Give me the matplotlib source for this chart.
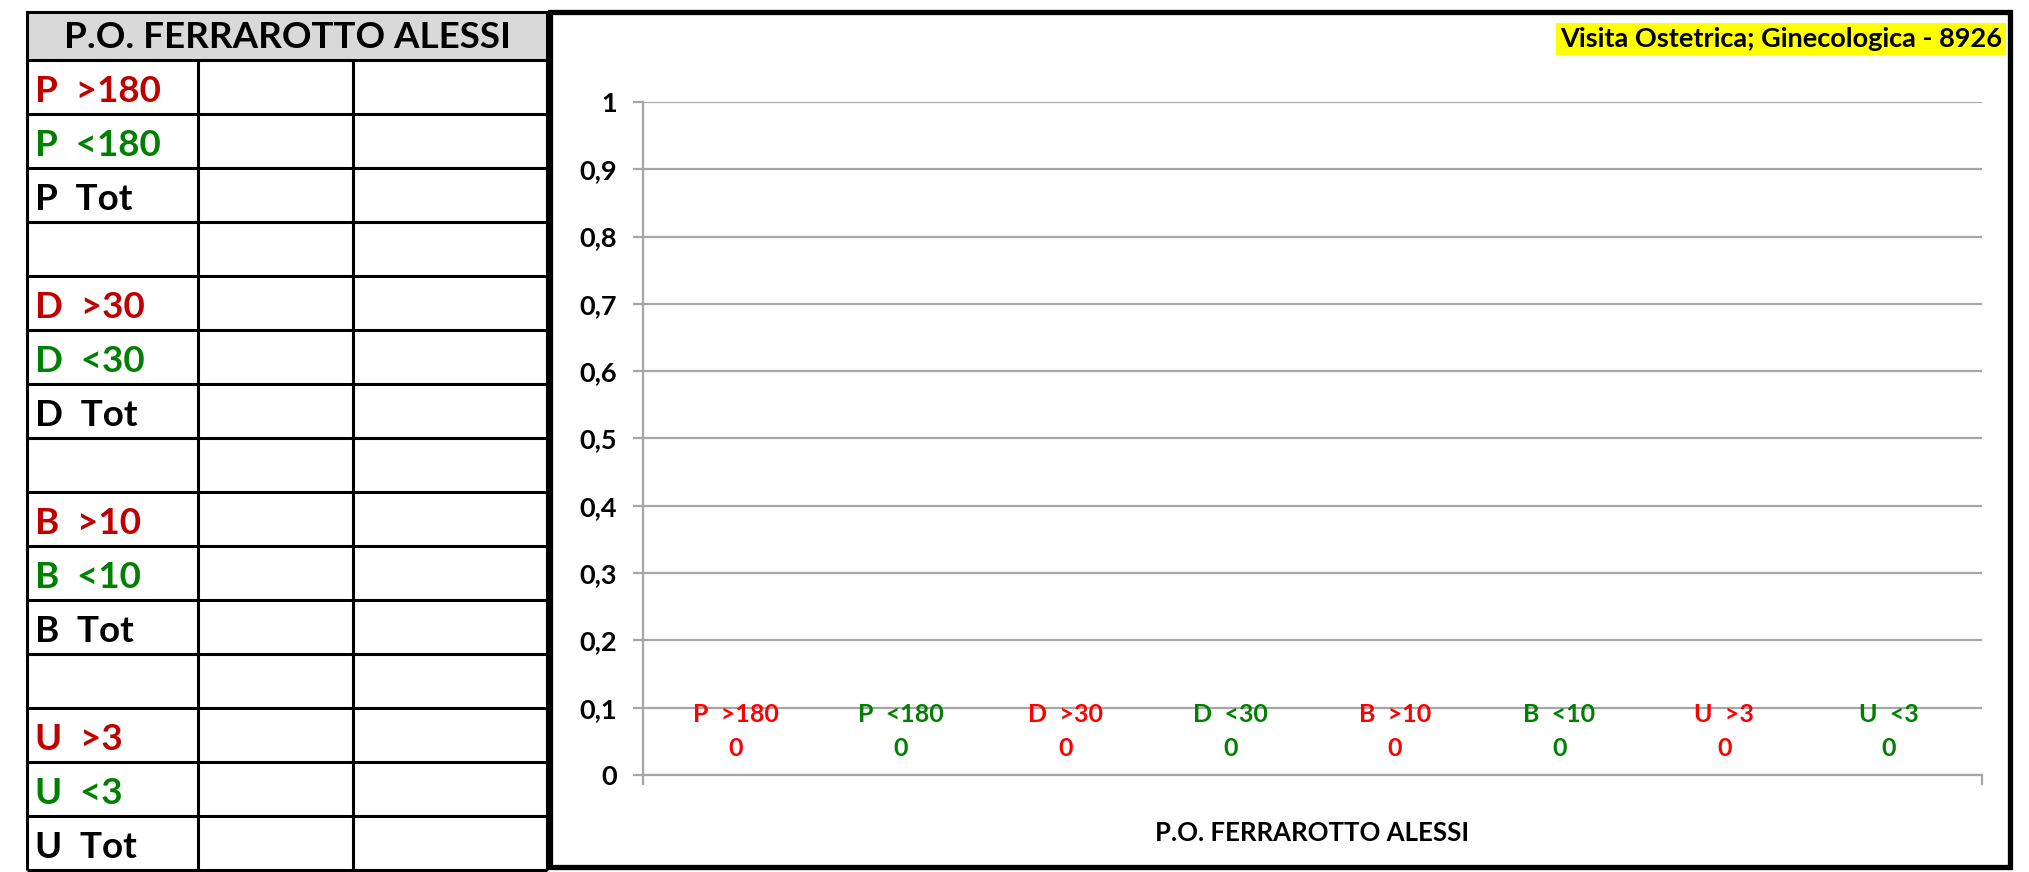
import matplotlib
matplotlib.use("Agg")
import matplotlib.pyplot as plt
from matplotlib.patches import Rectangle

plt.rcParams['font.family'] = ['Lato', 'DejaVu Sans']
plt.rcParams['font.weight'] = 'bold'

# data
title = "P.O. FERRAROTTO ALESSI"
badge = "Visita Ostetrica; Ginecologica - 8926"
row_labels = ["P  >180", "P  <180", "P  Tot", "",
              "D  >30", "D  <30", "D  Tot", "",
              "B  >10", "B  <10", "B  Tot", "",
              "U  >3", "U  <3", "U  Tot"]
row_kind = ["hi", "lo", "tot", "", "hi", "lo", "tot", "",
            "hi", "lo", "tot", "", "hi", "lo", "tot"]
series = ["P  >180", "P  <180", "D  >30", "D  <30", "B  >10", "B  <10", "U  >3", "U  <3"]
series_kind = ["hi", "lo", "hi", "lo", "hi", "lo", "hi", "lo"]
values = [0, 0, 0, 0, 0, 0, 0, 0]
yticks = [0, 0.1, 0.2, 0.3, 0.4, 0.5, 0.6, 0.7, 0.8, 0.9, 1]

table_col = {"hi": "#c00000", "lo": "#008000", "tot": "black", "": "black"}
chart_col = {"hi": "#ff0000", "lo": "#008000"}

W, H = 2029, 872
fig = plt.figure(figsize=(W / 100, H / 100), dpi=100)

# overlay in pixel coords for table and frame
bg = fig.add_axes([0, 0, 1, 1], zorder=0)
bg.set_xlim(0, W)
bg.set_ylim(H, 0)
bg.axis('off')

tl, tr, tt, hb, tb = 27, 547, 12, 60, 870
cols = [tl, 198, 353, tr]
rh = (tb - hb) / len(row_labels)

bg.add_patch(Rectangle((tl, tt), tr - tl, hb - tt, facecolor='#d9d9d9', edgecolor='black', lw=2.2))
bg.text((tl + tr) / 2, (tt + hb) / 2 + 2, title, ha='center', va='center', fontsize=26.5, fontweight='bold')
for i, lab in enumerate(row_labels):
    y0 = hb + i * rh
    bg.plot([tl, tr], [y0 + rh, y0 + rh], color='black', lw=2.2, solid_capstyle='butt')
    bg.text(35, y0 + rh / 2 + 4, lab, ha='left', va='center', fontsize=26.5,
            fontweight='bold', color=table_col[row_kind[i]])
for x in cols:
    bg.plot([x, x], [hb, tb], color='black', lw=2.2, solid_capstyle='butt')

# chart frame
bg.add_patch(Rectangle((550, 12), 2010 - 550, 867 - 12, facecolor='white', edgecolor='black', lw=3.8))
bg.text(2002, 39, badge, ha='right', va='center', fontsize=19.5, fontweight='bold',
        bbox=dict(facecolor='#ffff00', edgecolor='none', pad=2.5))

# chart axes
al, ar, at, ab = 643, 1982, 102, 775
ax = fig.add_axes([al / W, 1 - ab / H, (ar - al) / W, (ab - at) / H], zorder=1)
ax.patch.set_alpha(0)
ax.set_ylim(0, 1)
ax.set_xlim(-0.5, 0.5)
ax.set_yticks(yticks)
ax.set_yticklabels([("%g" % t).replace('.', ',') for t in yticks], fontsize=19.5, fontweight='bold')
ax.yaxis.grid(True, color='#a6a6a6', lw=1.6)
ax.set_axisbelow(True)
for s in ['top', 'right']:
    ax.spines[s].set_visible(False)
ax.spines['left'].set_color('#a6a6a6')
ax.spines['bottom'].set_color('#a6a6a6')
ax.spines['left'].set_linewidth(1.6)
ax.spines['bottom'].set_linewidth(1.6)
ax.tick_params(axis='y', length=7, width=1.6, color='#a6a6a6', pad=12)

ax.set_xticks([0])
ax.set_xticklabels([title], fontsize=18.5, fontweight='bold')
ax.tick_params(axis='x', which='major', length=0, pad=33)
ax.set_xticks([-0.5, 0.5], minor=True)
ax.tick_params(axis='x', which='minor', length=7, width=1.6, color='#a6a6a6')

bw = 0.123
for i, (name, v) in enumerate(zip(series, values)):
    x = (i - 3.5) * bw
    c = chart_col[series_kind[i]]
    ax.bar(x, v, width=bw * 0.8, color=c)
    ax.annotate(f"{name}\n{v}", (x, v), xytext=(0, 11), textcoords='offset points',
                ha='center', va='bottom', fontsize=18, fontweight='bold', color=c,
                linespacing=1.55)

fig.savefig("out.png", dpi=100)
